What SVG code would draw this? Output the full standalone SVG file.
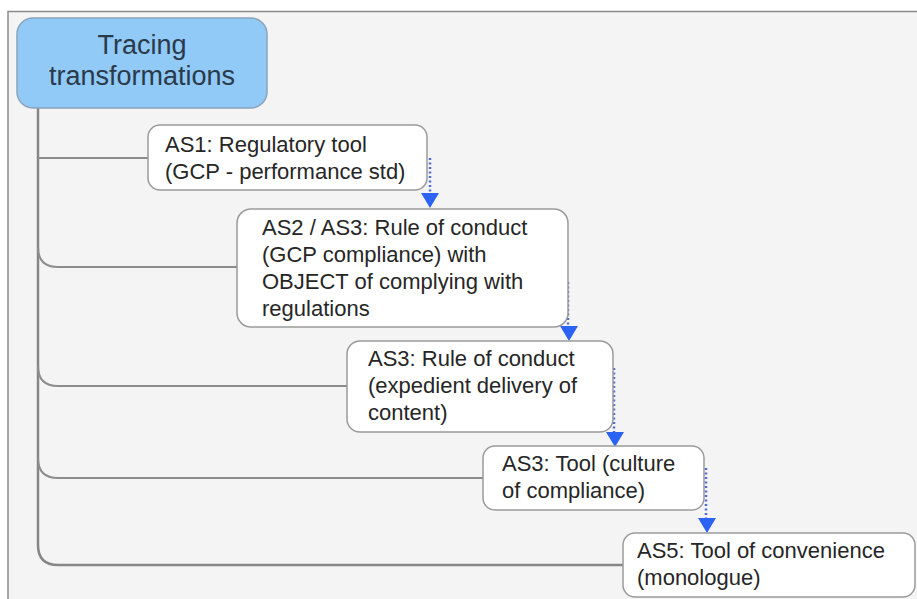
<svg xmlns="http://www.w3.org/2000/svg" width="917" height="599" viewBox="0 0 917 599">
  <defs>
    <style>
      .frame { fill: #f4f4f4; stroke: none; }
      .frame-edge { fill: none; stroke: #8a8a8a; stroke-width: 1.5; }
      .trunk { fill: none; stroke: #868686; stroke-width: 2.5; }
      .branch { fill: none; stroke: #8c8c8c; stroke-width: 2; }
      .box { fill: #ffffff; stroke: #9a9a9a; stroke-width: 1.5; }
      .root { fill: #91c9f7; stroke: #8aa4bb; stroke-width: 1.5; }
      .label { font-family: "Liberation Sans", Arial, sans-serif; font-size: 22px; fill: #262626; }
      .title { font-family: "Liberation Sans", Arial, sans-serif; font-size: 27px; fill: #2a3a4a; text-anchor: middle; }
      .flow { fill: none; stroke: #4f6bd6; stroke-width: 2.5; stroke-dasharray: 2 2.5; }
      .head { fill: #2d63f5; }
    </style>
  </defs>

  <!-- canvas panel -->
  <rect class="frame" x="8" y="11" width="909" height="588"/>
  <path class="frame-edge" d="M8,599 V11.5 H917"/>

  <!-- connectors -->
  <g id="connectors">
    <!-- tree trunk and branches from the root -->
    <path class="trunk" d="M38,108 V545 Q38,565 58,565 H623"/>
    <path class="branch" d="M38,158 H148"/>
    <path class="branch" d="M38,247 Q38,267 58,267 H237"/>
    <path class="branch" d="M38,366 Q38,386 58,386 H347"/>
    <path class="branch" d="M38,458 Q38,478 58,478 H483"/>

    <!-- dotted sequence arrows -->
    <path class="flow" d="M430,158 V194"/>
    <polygon class="head" points="421,193 439,193 430,208"/>
    <path class="flow" d="M568,282 V326"/>
    <polygon class="head" points="560,326 578,326 569,341"/>
    <path class="flow" d="M614,368 V433"/>
    <polygon class="head" points="606,432 624,432 615,447"/>
    <path class="flow" d="M706,468 V518"/>
    <polygon class="head" points="698,518 716,518 707,533"/>
  </g>

  <g id="root">
    <rect class="root" x="17" y="18" width="250" height="90" rx="16"/>
    <text class="title" x="142" y="54">Tracing</text>
    <text class="title" x="142" y="85">transformations</text>
  </g>

  <g id="as1">
    <rect class="box" x="148" y="125" width="279" height="65" rx="12"/>
    <text class="label" x="165" y="152">AS1: Regulatory tool</text>
    <text class="label" x="165" y="179">(GCP - performance std)</text>
  </g>

  <g id="as2-as3">
    <rect class="box" x="237" y="209" width="331" height="118" rx="14"/>
    <text class="label" x="262" y="235">AS2 / AS3: Rule of conduct</text>
    <text class="label" x="262" y="262">(GCP compliance) with</text>
    <text class="label" x="262" y="289">OBJECT of complying with</text>
    <text class="label" x="262" y="316">regulations</text>
  </g>

  <g id="as3-rule">
    <rect class="box" x="347" y="341" width="266" height="91" rx="13"/>
    <text class="label" x="368" y="366">AS3: Rule of conduct</text>
    <text class="label" x="368" y="393">(expedient delivery of</text>
    <text class="label" x="368" y="420">content)</text>
  </g>

  <g id="as3-tool">
    <rect class="box" x="483" y="446" width="221" height="64" rx="12"/>
    <text class="label" x="502" y="471">AS3: Tool (culture</text>
    <text class="label" x="502" y="498">of compliance)</text>
  </g>

  <g id="as5">
    <rect class="box" x="623" y="533" width="292" height="64" rx="12"/>
    <text class="label" x="637" y="558">AS5: Tool of convenience</text>
    <text class="label" x="637" y="585">(monologue)</text>
  </g>
</svg>
